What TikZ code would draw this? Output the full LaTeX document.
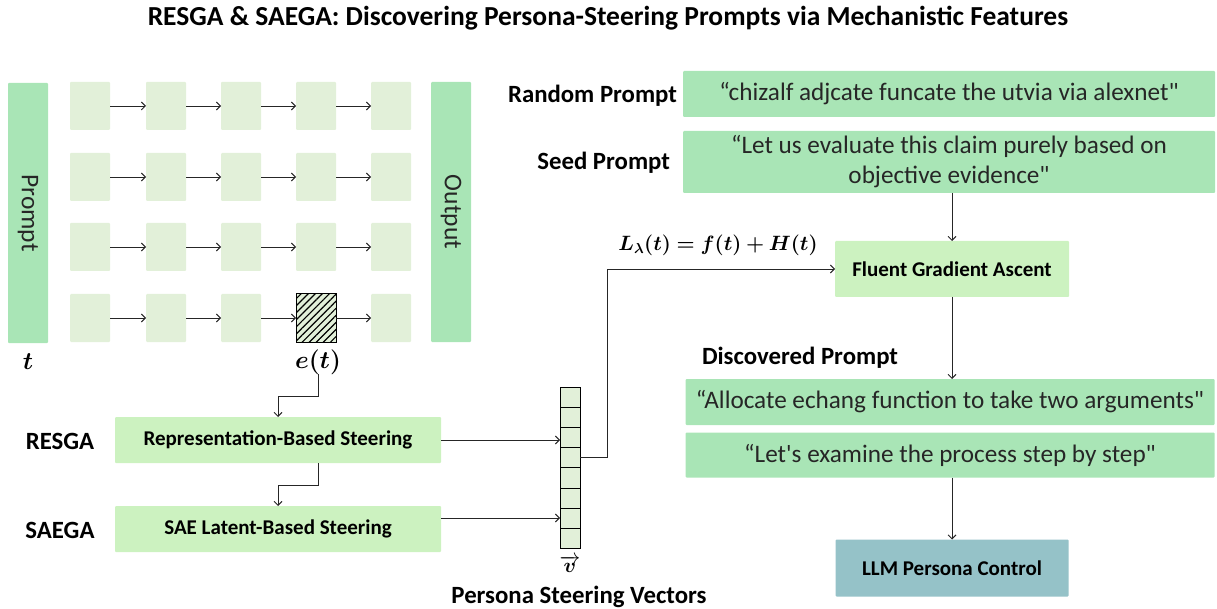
\documentclass[tikz,border=0pt]{standalone}
\usepackage{amsmath,bm}
\usepackage{fontspec}
\setmainfont{Carlito}
\newfontfamily\qfont{Carlito}[Ligatures=TeXOff]
\usetikzlibrary{calc,arrows.meta,patterns.meta}
\definecolor{barc}{HTML}{A9E5B6}
\definecolor{cellc}{HTML}{E2F0D9}
\definecolor{limec}{HTML}{CCF2C0}
\definecolor{tealc}{HTML}{95C2C8}
\definecolor{linec}{HTML}{262626}
\definecolor{txtc}{HTML}{262626}
\begin{document}
\begin{tikzpicture}[x=1pt,y=-1pt,
  every node/.style={inner sep=0pt, outer sep=0pt},
  bar/.style={fill=barc, rounded corners=1pt, text=txtc, font=\fontsize{25.5}{30}\selectfont},
  cell/.style={fill=cellc, minimum width=40pt, minimum height=48pt, rounded corners=1pt},
  hatchcell/.style={cell, draw=black, line width=1pt, rounded corners=0pt,
    postaction={pattern={Lines[angle=45,distance=5pt,line width=1.2pt]}, pattern color=black}},
  quotebox/.style={fill=barc, rounded corners=1pt, text=txtc, align=center,
    font=\qfont\fontsize{25.2}{30}\selectfont},
  limebox/.style={fill=limec, rounded corners=1pt, font=\bfseries\fontsize{21}{25}\selectfont},
  tealbox/.style={fill=tealc, rounded corners=1pt, font=\bfseries\fontsize{21}{25}\selectfont},
  lab/.style={font=\bfseries\fontsize{24.8}{29}\selectfont},
  mth/.style={font=\fontsize{24.2}{28}\selectfont},
  veccell/.style={fill=cellc, draw=black, line width=0.8pt, minimum width=20pt, minimum height=20.1pt},
  conn/.style={draw=linec, line width=0.9pt},
  arr/.style={conn, -{Straight Barb[length=4pt,width=8pt]}},
]
\useasboundingbox (0,0) rectangle (1217,609);

% title
\node[font=\bfseries\fontsize{27.5}{32}\selectfont] (title) at (608,18)
  {RESGA \& SAEGA: Discovering Persona-Steering Prompts via Mechanistic Features};

% LLM grid
\node[bar, rotate=-90, minimum width=260pt, minimum height=40pt] (prompt) at (28,213) {Prompt};
\node[bar, rotate=-90, minimum width=260pt, minimum height=40pt] (output) at (451,212) {Output};
\foreach \r/\y in {1/106,2/177,3/247,4/318} {
  \foreach \c/\x in {1/90,2/166,3/241,4/316,5/391} {
    \node[cell] (c\r\c) at (\x,\y) {};
  }
}
\node[hatchcell] (c44) at (316,318) {};
\foreach \r in {1,...,4} {
  \foreach \c/\n in {1/2,2/3,3/4,4/5} {
    \draw[arr] (c\r\c.east) -- (c\r\n.west);
  }
}
\node[mth] (t) at (28,362) {$\boldsymbol{t}$};
\node[mth] (et) at (318,362) {$\boldsymbol{e(t)}$};

% steering boxes
\node[lab] (resga) at (60,441) {RESGA};
\node[lab] (saega) at (60,530) {SAEGA};
\node[limebox, minimum width=326pt, minimum height=46pt] (rep) at (278,440) {Representation-Based Steering};
\node[limebox, minimum width=326pt, minimum height=46pt] (sae) at (278,529) {SAE Latent-Based Steering};
\draw[arr] (et.south) -- ++(0,22) -| (rep.north);
\draw[arr] ($(rep.south)+(40,0)$) -- ++(0,22) -| (sae.north);

% vector
\node[minimum width=20pt, minimum height=161pt] (vec) at (570,467.5) {};
\foreach \i in {0,...,7} {
  \node[veccell] (v\i) at (570,397.5+20.1*\i) {};
}
\coordinate (saeo) at ($(sae.east)+(0,-11)$);
\draw[arr] (rep.east) -- (rep.east -| vec.west);
\draw[arr] (saeo) -- (saeo -| vec.west);
\node[font=\fontsize{21}{24}\selectfont] (vlab) at (570,564) {$\overrightarrow{\boldsymbol{v}}$};
\node[lab] (pvlab) at (579,597) {Persona Steering Vectors};

% right side
\node[lab, anchor=east] (rlab) at (677,96) {Random Prompt};
\node[lab, anchor=east] (slab) at (670,163) {Seed Prompt};
\node[quotebox, minimum width=532pt, minimum height=46pt] (rand) at (949,94)
  {“chizalf adjcate funcate the utvia via alexnet"};
\node[quotebox, minimum width=532pt, minimum height=62pt] (seed) at (949,162)
  {“Let us evaluate this claim purely based on\\objective evidence"};
\node[limebox, minimum width=234pt, minimum height=56pt] (fga) at (952,269) {Fluent Gradient Ascent};
\node[font=\fontsize{22}{26}\selectfont] (loss) at (718,245) {$\boldsymbol{L_{\lambda}(t) = f(t) + H(t)}$};
\draw[arr] (v3.east) -- ++(27,0) |- (fga.west);
\draw[arr] (fga.north |- seed.south) -- (fga.north);

\node[lab, anchor=west] (dlab) at (702,358) {Discovered Prompt};
\node[quotebox, minimum width=529pt, minimum height=46pt] (alloc) at (950,402)
  {“Allocate echang function to take two arguments"};
\node[quotebox, minimum width=529pt, minimum height=45pt] (lets) at (950,455)
  {“Let's examine the process step by step"};
\draw[arr] (fga.south) -- (fga.south |- alloc.north);
\node[tealbox, minimum width=233pt, minimum height=57pt] (llm) at (952,568) {LLM Persona Control};
\draw[arr] (lets.south -| llm.north) -- (llm.north);
\end{tikzpicture}
\end{document}
